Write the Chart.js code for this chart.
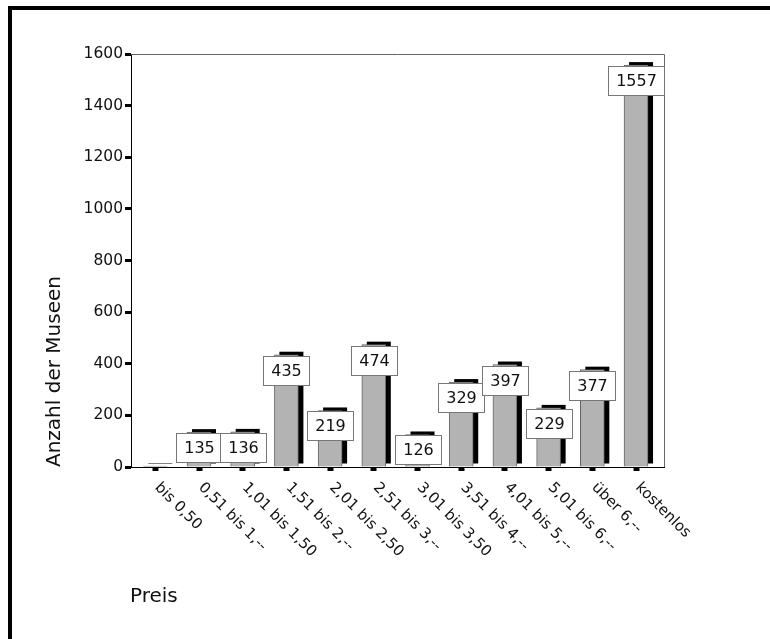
<!DOCTYPE html>
<html lang="de">
<head>
<meta charset="utf-8">
<title>Anzahl der Museen nach Preis</title>
<script src="https://cdn.jsdelivr.net/npm/chart.js@4.4.1/dist/chart.umd.min.js"></script>
<style>
  html, body { margin: 0; padding: 0; background: #fff; overflow: hidden; }
  #wrap { position: relative; width: 770px; height: 639px; }
  #chart { position: absolute; left: 0; top: 0; }
  .frame {
    position: absolute; left: 8px; top: 6px; width: 800px; height: 700px;
    border-top: 4px solid #000; border-left: 4px solid #000; pointer-events: none;
  }
</style>
</head>
<body>
<div id="wrap">
  <canvas id="chart" width="770" height="639"></canvas>
  <div class="frame"></div>
</div>
<script>
"use strict";

const categories = [
  "bis 0,50", "0,51 bis 1,--", "1,01 bis 1,50", "1,51 bis 2,--",
  "2,01 bis 2,50", "2,51 bis 3,--", "3,01 bis 3,50", "3,51 bis 4,--",
  "4,01 bis 5,--", "5,01 bis 6,--", "über 6,--", "kostenlos",
];
const museums = [0, 135, 136, 435, 219, 474, 126, 329, 397, 229, 377, 1557];
const yTicks = [0, 200, 400, 600, 800, 1000, 1200, 1400, 1600];
const yTitle = "Anzahl der Museen";
const xTitle = "Preis";

(() => {
  const FONT = "'DejaVu Sans', Verdana, sans-serif";
  const byId = (id) => document.getElementById(id);

  // schwarzer 3D-Schatten hinter den Balken (aus den Balkenelementen)
  const barShadow = {
    id: "barShadow",
    beforeDatasetsDraw(chart) {
      const { ctx } = chart;
      ctx.save();
      ctx.fillStyle = "#000";
      chart.getDatasetMeta(0).data.forEach((bar) => {
        const { x, y, base, width } = bar.getProps(["x", "y", "base", "width"], true);
        ctx.fillRect(x - width / 2 + 5, y - 3, width, base - y);
      });
      ctx.restore();
    },
  };

  // Wertekästchen, schräge Kategorien, Achsentitel, Rahmen oben/rechts
  const decorations = {
    id: "decorations",
    afterDraw(chart) {
      const { ctx, chartArea: area } = chart;
      const xScale = chart.scales.x;
      ctx.save();

      ctx.strokeStyle = "#666";
      ctx.lineWidth = 1;
      ctx.beginPath();
      ctx.moveTo(area.left, area.top + 0.5);
      ctx.lineTo(area.right + 0.5, area.top + 0.5);
      ctx.lineTo(area.right + 0.5, area.bottom);
      ctx.stroke();

      const meta = chart.getDatasetMeta(0);
      ctx.font = `16px ${FONT}`;
      ctx.textAlign = "center";
      ctx.textBaseline = "middle";
      meta.data.forEach((bar, i) => {
        const v = museums[i];
        if (!v) return;
        const text = String(v);
        const w = Math.round(ctx.measureText(text).width + 15);
        const h = 29;
        const left = Math.round(bar.x - w / 2) + 0.5;
        const top = Math.round(bar.y + 1) + 0.5;
        ctx.fillStyle = "#fff";
        ctx.fillRect(left, top, w, h);
        ctx.strokeStyle = "#777";
        ctx.strokeRect(left, top, w, h);
        ctx.fillStyle = "#111";
        ctx.fillText(text, left + w / 2, top + h / 2 + 0.5);
      });

      ctx.font = `15px ${FONT}`;
      ctx.textAlign = "left";
      ctx.textBaseline = "alphabetic";
      ctx.fillStyle = "#111";
      categories.forEach((label, i) => {
        const x = xScale.getPixelForValue(i);
        ctx.save();
        ctx.translate(x - 1, area.bottom + 21);
        ctx.rotate(Math.PI / 4);
        ctx.fillText(label, 0, 0);
        ctx.restore();
      });

      ctx.font = `20px ${FONT}`;
      ctx.textBaseline = "middle";
      ctx.save();
      ctx.translate(55, area.bottom);
      ctx.rotate(-Math.PI / 2);
      ctx.fillText(yTitle, 0, 0);
      ctx.restore();
      ctx.fillText(xTitle, 130, 597);

      ctx.restore();
    },
  };

  const boot = () => {
    new Chart(byId("chart"), {
      type: "bar",
      data: {
        datasets: [{
          data: museums.map((v, i) => ({ x: i, y: v })),
          backgroundColor: "#b3b3b3",
          borderColor: "#666",
          borderWidth: 1,
          barThickness: 24,
          minBarLength: 1,
        }],
      },
      options: {
        responsive: false,
        devicePixelRatio: 1,
        animation: false,
        events: [],
        layout: { padding: { top: 54, right: 106, bottom: 0, left: 0 } },
        plugins: { legend: { display: false }, tooltip: { enabled: false } },
        scales: {
          x: {
            type: "linear",
            offset: false,
            min: -0.556,
            max: 11.64,
            afterFit: (scale) => { scale.height = 172; },
            border: { color: "#000", width: 1 },
            grid: { offset: false, drawOnChartArea: false, tickLength: 4, tickWidth: 6, tickColor: "#000" },
            ticks: { display: false, stepSize: 1, includeBounds: false, autoSkip: false },
          },
          y: {
            min: yTicks[0],
            max: yTicks[yTicks.length - 1],
            afterFit: (scale) => { scale.width = 131; },
            afterBuildTicks: (scale) => { scale.ticks = yTicks.map((value) => ({ value })); },
            border: { color: "#000", width: 1 },
            grid: { drawOnChartArea: false, tickLength: 6, tickWidth: 3, tickColor: "#000" },
            ticks: {
              padding: 2,
              color: "#111",
              font: { family: FONT, size: 15.5 },
              callback: (value) => String(value),
            },
          },
        },
      },
      plugins: [barShadow, decorations],
    });
  };

  if (document.readyState === "loading") {
    document.addEventListener("DOMContentLoaded", boot);
  } else {
    boot();
  }
})();
</script>
</body>
</html>
